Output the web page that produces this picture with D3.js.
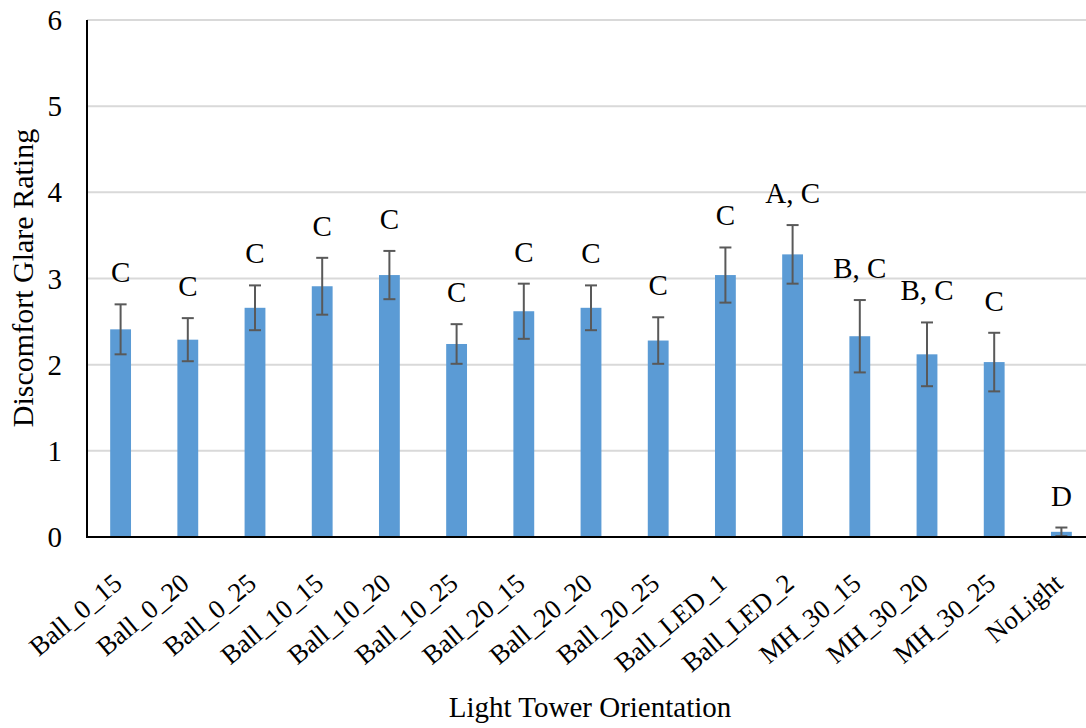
<!DOCTYPE html>
<html>
<head>
<meta charset="utf-8">
<script src="https://cdn.jsdelivr.net/npm/d3@7"></script>
<style>
  html, body { margin: 0; padding: 0; background: #fff; }
  svg { display: block; }
  svg text { font-family: "Liberation Serif", "DejaVu Serif", serif; fill: #000; }
</style>
</head>
<body>
<svg id="chart" width="1086" height="728"></svg>
<script>
// Mean discomfort glare rating per light tower orientation, with error bars
const categories = ["Ball_0_15", "Ball_0_20", "Ball_0_25", "Ball_10_15", "Ball_10_20",
  "Ball_10_25", "Ball_20_15", "Ball_20_20", "Ball_20_25", "Ball_LED_1", "Ball_LED_2",
  "MH_30_15", "MH_30_20", "MH_30_25", "NoLight"];
const means  = [2.41, 2.29, 2.66, 2.91, 3.04, 2.24, 2.62, 2.66, 2.28, 3.04, 3.28, 2.33, 2.12, 2.03, 0.06];
const errors = [0.29, 0.25, 0.26, 0.33, 0.28, 0.23, 0.32, 0.26, 0.27, 0.32, 0.34, 0.42, 0.37, 0.34, 0.05];
const groups = ["C", "C", "C", "C", "C", "C", "C", "C", "C", "C", "A, C", "B, C", "B, C", "C", "D"];
const yTicks = [0, 1, 2, 3, 4, 5, 6];

const serif = "'Liberation Serif', 'DejaVu Serif', serif";
const svg = d3.select("#chart");
const plotLeft = 87, plotTop = 20, plotBottom = 537;
const step = 67.2;

const x = d3.scaleBand()
  .domain(categories)
  .range([plotLeft, plotLeft + step * categories.length])
  .paddingInner(0.69)
  .paddingOuter(0.345);

const y = d3.scaleLinear().domain([0, 6]).range([plotBottom, plotTop]);
const cx = c => x(c) + x.bandwidth() / 2;

// horizontal gridlines
svg.append("g")
  .selectAll("line")
  .data(yTicks.filter(d => d > 0))
  .join("line")
  .attr("x1", plotLeft).attr("x2", 1086)
  .attr("y1", d => y(d)).attr("y2", d => y(d))
  .attr("stroke", "#d9d9d9").attr("stroke-width", 2);

// y axis tick labels
svg.append("g")
  .selectAll("text")
  .data(yTicks)
  .join("text")
  .attr("x", 62).attr("y", d => y(d))
  .attr("dy", "0.35em")
  .attr("text-anchor", "end")
  .attr("font-family", serif)
  .attr("font-size", 29)
  .text(d => d);

const rows = categories.map((c, i) => ({ c, m: means[i], e: errors[i], g: groups[i] }));

// bars
svg.append("g")
  .selectAll("rect")
  .data(rows)
  .join("rect")
  .attr("x", d => x(d.c))
  .attr("width", x.bandwidth())
  .attr("y", d => y(d.m))
  .attr("height", d => y(0) - y(d.m))
  .attr("fill", "#5b9bd5");

// error bars
const eb = svg.append("g").attr("stroke", "#595959").attr("stroke-width", 2);
rows.forEach(d => {
  const px = cx(d.c);
  const hi = y(d.m + d.e), lo = y(Math.max(0, d.m - d.e));
  eb.append("line").attr("x1", px).attr("x2", px).attr("y1", hi).attr("y2", lo);
  eb.append("line").attr("x1", px - 6).attr("x2", px + 6).attr("y1", hi).attr("y2", hi);
  eb.append("line").attr("x1", px - 6).attr("x2", px + 6).attr("y1", lo).attr("y2", lo);
});

// significance group letters
svg.append("g")
  .selectAll("text")
  .data(rows)
  .join("text")
  .attr("x", d => cx(d.c))
  .attr("y", d => y(d.m + d.e) - 22)
  .attr("text-anchor", "middle")
  .attr("font-family", serif)
  .attr("font-size", 29)
  .text(d => d.g);

// axis lines
svg.append("line").attr("x1", plotLeft).attr("x2", plotLeft).attr("y1", plotTop).attr("y2", plotBottom + 1)
  .attr("stroke", "#000").attr("stroke-width", 2);
svg.append("line").attr("x1", plotLeft - 1).attr("x2", 1086).attr("y1", plotBottom).attr("y2", plotBottom)
  .attr("stroke", "#000").attr("stroke-width", 2);

// rotated category labels
svg.append("g")
  .selectAll("text")
  .data(categories)
  .join("text")
  .attr("text-anchor", "end")
  .attr("font-family", serif)
  .attr("font-size", 26.6)
  .attr("transform", d => `translate(${cx(d) + 3},${586}) rotate(-40)`)
  .text(d => d);

// axis titles
svg.append("text")
  .attr("x", 590).attr("y", 717)
  .attr("text-anchor", "middle")
  .attr("font-family", serif)
  .attr("font-size", 29)
  .text("Light Tower Orientation");

svg.append("text")
  .attr("transform", `translate(33,${278}) rotate(-90)`)
  .attr("text-anchor", "middle")
  .attr("font-family", serif)
  .attr("font-size", 30)
  .text("Discomfort Glare Rating");
</script>
</body>
</html>
